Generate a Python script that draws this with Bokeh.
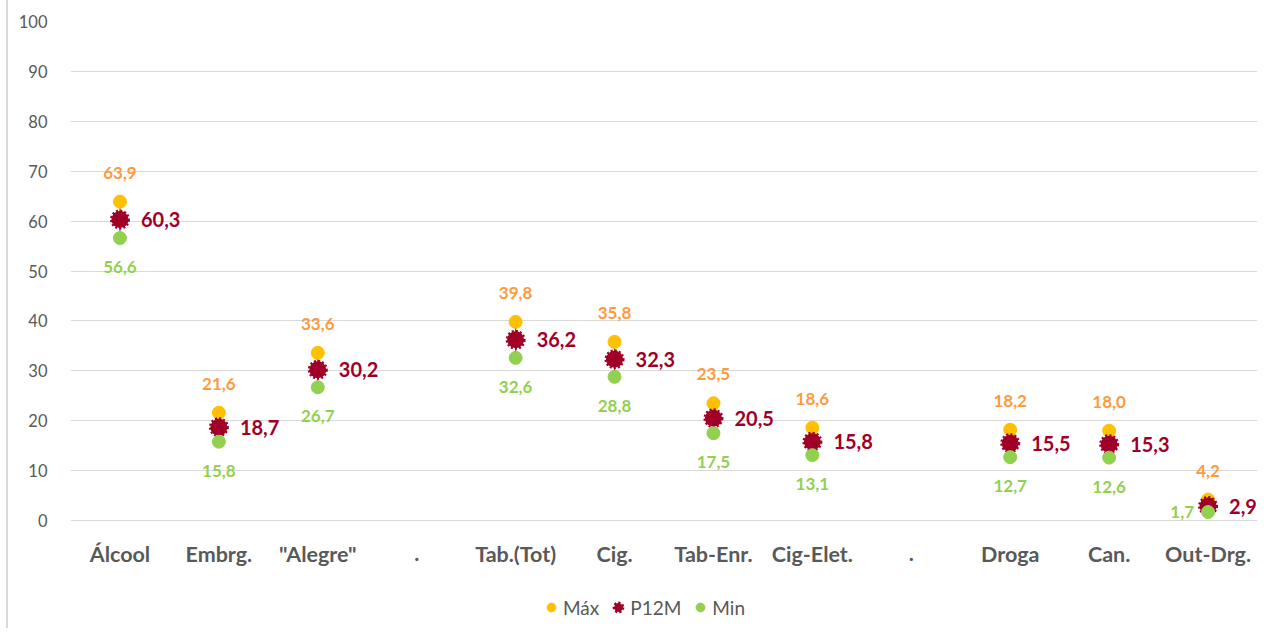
import math
from bokeh.plotting import figure
from bokeh.models import ColumnDataSource, LabelSet, Legend, LegendItem, FixedTicker, Range1d
from bokeh.core.properties import value
from bokeh.embed import file_html
from bokeh.resources import INLINE

categories = ["Álcool", "Embrg.", "\"Alegre\"", ".", "Tab.(Tot)", "Cig.", "Tab-Enr.",
              "Cig-Elet.", ".", "Droga", "Can.", "Out-Drg."]
nan = float("nan")
max_vals = [63.9, 21.6, 33.6, nan, 39.8, 35.8, 23.5, 18.6, nan, 18.2, 18.0, 4.2]
p12m_vals = [60.3, 18.7, 30.2, nan, 36.2, 32.3, 20.5, 15.8, nan, 15.5, 15.3, 2.9]
min_vals = [56.6, 15.8, 26.7, nan, 32.6, 28.8, 17.5, 13.1, nan, 12.7, 12.6, 1.7]
y_ticks = list(range(0, 101, 10))

MAX_C = "#FFC000"
MAX_LC = "#FF9A3C"
P12_C = "#A00028"
MIN_C = "#92D050"
TXT = "#595959"
FONT = "Lato"

xs = list(range(len(categories)))

def fmt(v):
    return "" if math.isnan(v) else f"{v:.1f}".replace(".", ",")

def low(v):
    return (not math.isnan(v)) and v < 5

src = ColumnDataSource(dict(
    x=xs, mx=max_vals, pm=p12m_vals, mn=min_vals,
    mxt=[fmt(v) for v in max_vals], pmt=[fmt(v) for v in p12m_vals], mnt=[fmt(v) for v in min_vals],
    mn_xo=[-14 if low(v) else 0 for v in min_vals],
    mn_yo=[0 if low(v) else -29 for v in min_vals],
    mn_al=["right" if low(v) else "center" for v in min_vals],
))
cat_src = ColumnDataSource(dict(x=xs, y=[0] * len(xs), t=categories))

# layout in pixels
W, H = 1268, 628
TOP, LEFT, RIGHT = 21, 70, 11
ZERO_PX = 520                      # pixel row of value 0
px_per_unit = (ZERO_PX - TOP) / 100.0
y_start = -(H - ZERO_PX) / px_per_unit

p = figure(width=W, height=H, output_backend="svg", toolbar_location=None,
           x_range=Range1d(-0.5, len(categories) - 0.5), y_range=Range1d(y_start, 100),
           min_border_left=LEFT, min_border_right=RIGHT, min_border_top=TOP, min_border_bottom=0)
p.outline_line_color = None
p.background_fill_color = "white"
p.border_fill_color = None
p.styles = {"background": "linear-gradient(to right, white 6px, #D9D9D9 6px, #D9D9D9 8px, white 8px)"}
p.xaxis.visible = False

# y axis
p.yaxis.ticker = FixedTicker(ticks=y_ticks)
p.yaxis.axis_line_color = None
p.yaxis.major_tick_line_color = None
p.yaxis.minor_tick_line_color = None
p.yaxis.major_label_text_font = FONT
p.yaxis.major_label_text_font_size = "16.5px"
p.yaxis.major_label_text_color = TXT
p.yaxis.major_label_standoff = 17

p.xgrid.grid_line_color = None
p.ygrid.grid_line_color = "#D9D9D9"
p.ygrid.grid_line_width = 1

# category labels (drawn under the zero line)
p.text(x="x", y="y", text="t", source=cat_src, y_offset=33, text_align="center",
       text_baseline="middle", text_font=value(FONT), text_font_size="21.5px",
       text_font_style="bold", text_color=TXT)

# hi-lo line
p.segment(x0="x", y0="mn", x1="x", y1="mx", source=src, line_color="#404040", line_width=1)

r_max = p.scatter("x", "mx", source=src, marker="circle", size=13, fill_color=MAX_C, line_color=MAX_C)
r_pm = p.scatter("x", "pm", source=src, marker="circle", size=17, fill_color=P12_C,
                 line_color=P12_C, line_width=3, line_dash="2 2")
r_mn = p.scatter("x", "mn", source=src, marker="circle", size=13, fill_color=MIN_C, line_color=MIN_C)

p.add_layout(LabelSet(x="x", y="mx", text="mxt", source=src, y_offset=29, text_align="center",
                      text_baseline="middle", text_font=value(FONT), text_font_size=value("17px"),
                      text_font_style=value("bold"), text_color=value(MAX_LC)))
p.add_layout(LabelSet(x="x", y="pm", text="pmt", source=src, x_offset=21, text_align="left",
                      text_baseline="middle", text_font=value(FONT), text_font_size=value("20px"),
                      text_font_style=value("bold"), text_color=value(P12_C)))
p.add_layout(LabelSet(x="x", y="mn", text="mnt", source=src, x_offset="mn_xo", y_offset="mn_yo",
                      text_align="mn_al", text_baseline="middle", text_font=value(FONT),
                      text_font_size=value("17px"), text_font_style=value("bold"),
                      text_color=value(MIN_C)))

legend = Legend(items=[LegendItem(label="Máx", renderers=[r_max]),
                       LegendItem(label="P12M", renderers=[r_pm]),
                       LegendItem(label="Min", renderers=[r_mn])],
                orientation="horizontal", location=(470, 8),
                label_text_font=FONT, label_text_font_size="19px", label_text_color=TXT,
                border_line_color=None, background_fill_alpha=0,
                glyph_width=22, glyph_height=26, spacing=8, label_standoff=1,
                padding=4, margin=0)
p.add_layout(legend, "center")

open("out.html", "w").write(file_html(p, INLINE))
